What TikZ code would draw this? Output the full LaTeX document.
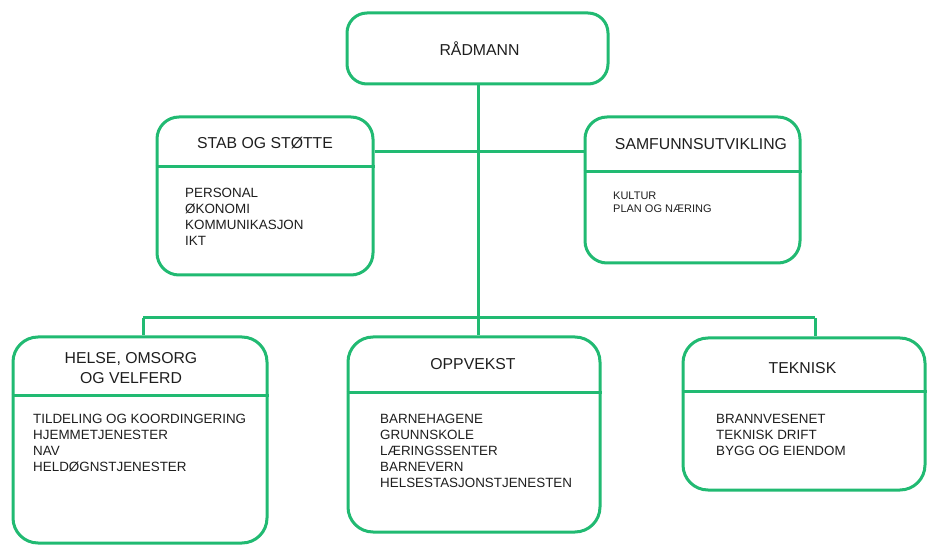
\documentclass[tikz,border=0pt]{standalone}
\usepackage{fontspec}
\setmainfont{Liberation Sans}
\definecolor{grn}{RGB}{33,186,114}
\definecolor{txt}{RGB}{30,30,30}
\newcommand\mytitlefont{\fontsize{15.8}{20}\selectfont}
\newcommand\myitemfont{\fontsize{13.4}{15.8}\selectfont}
\newcommand\mysmallfont{\fontsize{11}{13}\selectfont}
\begin{document}
\begin{tikzpicture}[x=1pt,y=-1pt,
  orgbox/.style={draw=grn, line width=3pt, rounded corners=#1, rectangle, inner sep=0pt, fill=none},
  orgbox/.default=22pt,
  conn/.style={draw=grn, line width=3pt},
  divline/.style={draw=grn, line width=3pt},
  ttl/.style={inner sep=0pt, anchor=base, text=txt, font=\mytitlefont},
  items/.style={inner sep=0pt, anchor=north west, align=left, text=txt, font=\myitemfont},
  sitems/.style={inner sep=0pt, anchor=north west, align=left, text=txt, font=\mysmallfont}]
\useasboundingbox (0,0) rectangle (927,545);

% boxes
\node[orgbox=20pt, minimum width=261pt, minimum height=71pt] (rad) at (477.5,48.5) {};
\node[orgbox, minimum width=216pt, minimum height=158pt] (stab) at (265,196) {};
\node[orgbox, minimum width=215pt, minimum height=146pt] (samf) at (692.5,190) {};
\node[orgbox=25pt, minimum width=254pt, minimum height=206pt] (helse) at (140,440) {};
\node[orgbox=25pt, minimum width=252pt, minimum height=195pt] (opp) at (474,434.5) {};
\node[orgbox=25pt, minimum width=242pt, minimum height=152pt] (tek) at (804,414) {};

% dividers
\coordinate (dstab) at (0,167);
\coordinate (dsamf) at (0,172);
\coordinate (dhel) at (0,396);
\coordinate (dopp) at (0,393);
\coordinate (dtek) at (0,392);
\draw[divline] (stab.west |- dstab) -- (stab.east |- dstab);
\draw[divline] (samf.west |- dsamf) -- (samf.east |- dsamf);
\draw[divline] (helse.west |- dhel) -- (helse.east |- dhel);
\draw[divline] (opp.west |- dopp) -- (opp.east |- dopp);
\draw[divline] (tek.west |- dtek) -- (tek.east |- dtek);

% titles
\node[ttl] (tRad) at (479.5,55.7) {RÅDMANN};
\node[ttl] (tStab) at (265,148.7) {STAB OG STØTTE};
\node[ttl] (tSamf) at (701,149.7) {SAMFUNNSUTVIKLING};
\node[inner sep=0pt, anchor=north, align=center, text=txt, font=\mytitlefont] (tHel) at (131,352.3) {HELSE, OMSORG\\OG VELFERD};
\node[ttl] (tOpp) at (473,369.7) {OPPVEKST};
\node[ttl] (tTek) at (802.5,373.7) {TEKNISK};

% items
\node[items] (iStab) at (185,188.3) {PERSONAL\\ØKONOMI\\KOMMUNIKASJON\\IKT};
\node[sitems] (iSamf) at (613,192) {KULTUR\\PLAN OG NÆRING};
\node[items] (iHel) at (33,414.3) {TILDELING OG KOORDINGERING\\HJEMMETJENESTER\\NAV\\HELDØGNSTJENESTER};
\node[items] (iOpp) at (380,414.3) {BARNEHAGENE\\GRUNNSKOLE\\LÆRINGSSENTER\\BARNEVERN\\HELSESTASJONSTJENESTEN};
\node[items] (iTek) at (716,414.3) {BRANNVESENET\\TEKNISK DRIFT\\BYGG OG EIENDOM};

% connectors
\coordinate (sb) at (478,152);
\coordinate (jl) at (143,318);
\coordinate (jm) at (478,318);
\coordinate (jr) at (815,318);
\draw[conn] (rad.south -| jm) -- (jm);
\draw[conn] (stab.east |- sb) -- (samf.west |- sb);
\draw[conn] (jl) -- (jr);
\draw[conn] (jl) -- (jl |- helse.north);
\draw[conn] (jm) -- (jm |- opp.north);
\draw[conn] (jr) -- (jr |- tek.north);
\end{tikzpicture}
\end{document}
